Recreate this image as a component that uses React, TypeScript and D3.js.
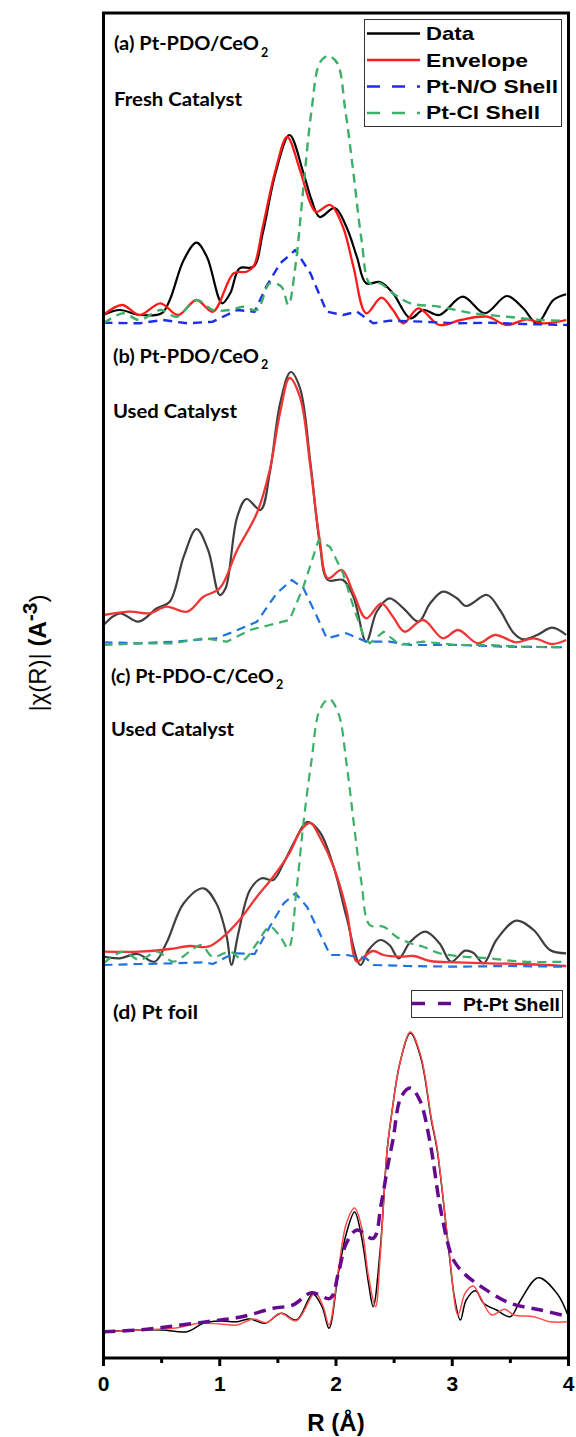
import React from 'react';
import * as d3 from 'd3';

type P = [number, number];

// ---------- axis ----------
const xMajorTicks = [0, 1, 2, 3, 4];
const xMinorTicks = [0.5, 1.5, 2.5, 3.5];

// ---------- panel (a) Pt-PDO/CeO2 fresh ----------
const aData: P[] = [[0,1.5],[0.14,2.0],[0.31,1.5],[0.50,1.67],[0.57,3.0],[0.69,7.0],[0.80,8.73],[0.89,7.3],[1.02,2.67],[1.09,3.67],[1.17,6.17],[1.29,6.33],[1.37,9.67],[1.48,15.7],[1.60,19.5],[1.72,15.7],[1.79,13.0],[1.86,11.3],[1.99,12.2],[2.09,10.3],[2.18,7.3],[2.26,4.67],[2.38,4.8],[2.49,3.67],[2.64,1.17],[2.75,2.0],[2.89,1.5],[3.09,3.33],[3.28,1.67],[3.47,3.4],[3.61,2.17],[3.73,0.67],[3.87,3.0],[3.98,3.57]];
const aEnvelope: P[] = [[0,1.5],[0.16,2.5],[0.31,1.5],[0.49,2.67],[0.64,1.5],[0.80,3.0],[0.94,1.83],[1.12,5.67],[1.23,5.83],[1.29,6.33],[1.37,10.3],[1.48,16.0],[1.58,19.3],[1.69,16.0],[1.78,12.67],[1.83,11.8],[1.95,12.5],[2.06,10.3],[2.15,6.33],[2.26,1.67],[2.39,3.23],[2.49,2.0],[2.58,0.67],[2.71,2.17],[2.89,0.5],[3.07,1.0],[3.30,1.33],[3.47,0.5],[3.64,1.07],[3.78,0.67],[3.98,1.0]];
const aNO: P[] = [[0,0.73],[0.31,0.67],[0.51,1.0],[0.72,0.67],[0.94,0.83],[1.15,2.0],[1.30,1.83],[1.40,4.33],[1.52,6.67],[1.65,8.0],[1.78,5.67],[1.92,1.83],[2.06,1.5],[2.18,1.83],[2.32,0.67],[2.46,0.93],[2.75,0.83],[3.04,0.67],[3.32,0.73],[3.61,0.6],[4.0,0.5]];
const aCl: P[] = [[0,0.67],[0.17,1.67],[0.31,1.0],[0.49,2.0],[0.63,1.33],[0.80,3.0],[0.94,2.0],[1.09,2.0],[1.20,2.33],[1.32,2.0],[1.43,4.67],[1.53,4.33],[1.59,2.5],[1.65,6.33],[1.72,14.3],[1.79,22.0],[1.86,26.7],[1.93,27.4],[2.01,26.7],[2.08,22.0],[2.15,15.7],[2.22,9.0],[2.29,4.67],[2.38,4.67],[2.49,3.67],[2.64,2.67],[2.89,2.33],[3.18,1.67],[3.47,1.33],[3.76,1.0],[3.98,0.93]];

// ---------- panel (b) Pt-PDO/CeO2 used ----------
const bData: P[] = [[0,3.0],[0.14,4.17],[0.30,3.33],[0.46,4.67],[0.57,5.33],[0.69,9.83],[0.80,12.6],[0.90,10.5],[1.00,6.0],[1.05,6.67],[1.15,13.8],[1.23,15.6],[1.35,14.5],[1.43,18.2],[1.52,25.2],[1.61,28.3],[1.69,26.7],[1.78,19.2],[1.86,11.2],[1.93,7.5],[2.06,7.5],[2.15,5.83],[2.26,1.33],[2.35,4.33],[2.46,5.67],[2.58,4.67],[2.71,3.33],[2.81,5.17],[2.92,6.33],[3.04,5.67],[3.12,4.9],[3.30,6.0],[3.41,4.5],[3.53,2.17],[3.61,1.57],[3.73,2.0],[3.86,2.73],[3.98,2.0]];
const bEnvelope: P[] = [[0,4.0],[0.23,4.33],[0.40,4.17],[0.54,4.83],[0.72,4.33],[0.86,5.83],[1.00,6.67],[1.15,10.5],[1.32,14.2],[1.43,18.5],[1.52,24.3],[1.60,27.7],[1.69,25.8],[1.78,18.8],[1.86,11.5],[1.93,7.67],[2.05,8.5],[2.15,6.17],[2.26,3.67],[2.39,5.17],[2.49,3.83],[2.59,2.33],[2.75,3.5],[2.92,1.67],[3.05,2.5],[3.22,1.17],[3.37,2.0],[3.55,1.27],[3.70,1.67],[3.86,1.1],[3.98,1.5]];
const bNO: P[] = [[0,1.27],[0.31,1.17],[0.60,1.33],[0.97,1.67],[1.12,2.33],[1.32,3.33],[1.49,6.17],[1.62,7.5],[1.72,6.67],[1.83,4.0],[1.92,1.67],[2.09,2.17],[2.26,1.33],[2.46,1.33],[2.64,1.0],[3.04,1.0],[3.47,0.83],[3.98,0.77]];
const bCl: P[] = [[0,1.0],[0.31,1.17],[0.60,1.17],[0.86,1.67],[1.06,1.33],[1.26,2.5],[1.43,3.0],[1.60,3.5],[1.72,6.83],[1.85,11.5],[1.95,10.8],[2.06,8.17],[2.15,4.83],[2.24,1.83],[2.29,1.17],[2.41,2.33],[2.55,1.0],[2.75,1.33],[3.04,1.0],[3.32,1.0],[3.61,0.83],[3.98,0.77]];

// ---------- panel (c) Pt-PDO-C/CeO2 used ----------
const cData: P[] = [[0,1.83],[0.14,1.67],[0.29,2.1],[0.44,1.33],[0.54,3.17],[0.69,7.17],[0.86,8.67],[0.97,7.17],[1.06,3.83],[1.10,1.0],[1.16,4.17],[1.26,8.5],[1.36,9.67],[1.46,9.5],[1.55,11.2],[1.65,13.5],[1.75,15.3],[1.86,14.3],[1.98,10.8],[2.09,5.83],[2.21,1.0],[2.28,2.5],[2.38,3.5],[2.46,3.0],[2.54,1.67],[2.64,3.33],[2.77,4.33],[2.89,3.17],[2.99,1.33],[3.11,2.43],[3.18,2.23],[3.27,1.17],[3.38,3.5],[3.55,5.43],[3.70,4.5],[3.84,2.5],[3.98,2.17]];
const cEnvelope: P[] = [[0,2.33],[0.31,2.33],[0.57,2.6],[0.74,2.9],[0.90,2.83],[1.03,3.83],[1.17,5.5],[1.32,7.83],[1.46,9.83],[1.60,12.2],[1.70,14.5],[1.78,15.2],[1.86,13.8],[1.98,10.8],[2.09,6.5],[2.18,1.33],[2.24,1.83],[2.32,2.4],[2.41,2.0],[2.55,1.83],[2.67,1.9],[2.81,1.4],[3.04,1.27],[3.32,1.17],[3.61,1.1],[3.98,0.9]];
const cNO: P[] = [[0,1.0],[0.31,1.1],[0.60,1.17],[0.86,1.27],[0.94,1.1],[1.12,2.17],[1.30,2.1],[1.43,4.83],[1.55,7.17],[1.65,8.17],[1.75,6.83],[1.86,4.17],[1.95,2.0],[2.09,2.0],[2.26,1.67],[2.32,1.0],[2.61,0.9],[3.04,0.83],[3.47,0.9],[3.98,0.83]];
const cCl: P[] = [[0,1.17],[0.17,2.33],[0.31,1.5],[0.46,2.33],[0.60,1.33],[0.74,2.33],[0.84,3.0],[0.94,1.83],[1.09,2.33],[1.20,1.5],[1.32,3.17],[1.43,4.83],[1.52,3.83],[1.59,2.67],[1.66,8.5],[1.72,15.2],[1.79,21.5],[1.86,26.5],[1.94,27.6],[2.02,26.2],[2.09,21.2],[2.16,14.5],[2.22,9.17],[2.29,5.0],[2.41,4.83],[2.52,3.83],[2.64,3.17],[2.75,2.83],[2.89,2.17],[3.04,1.9],[3.18,1.77],[3.32,1.67],[3.61,1.33],[3.98,1.33]];

// ---------- panel (d) Pt foil ----------
const dData: P[] = [[0,2.63],[0.31,2.8],[0.51,2.8],[0.72,2.63],[0.86,3.47],[1.00,3.7],[1.15,3.63],[1.26,3.9],[1.39,3.47],[1.53,4.47],[1.66,3.8],[1.80,6.4],[1.88,5.13],[1.94,2.97],[2.02,8.47],[2.09,12.5],[2.16,14.6],[2.22,12.1],[2.28,7.47],[2.32,5.13],[2.38,10.8],[2.44,20.8],[2.48,24.5],[2.55,29.5],[2.64,32.5],[2.73,30.0],[2.82,23.8],[2.87,20.8],[2.97,10.8],[3.02,6.0],[3.07,3.8],[3.12,5.8],[3.20,6.73],[3.27,5.47],[3.38,4.8],[3.50,4.13],[3.58,5.63],[3.74,8.03],[3.90,6.47],[4.00,4.13]];
const dEnvelope: P[] = [[0,2.63],[0.31,2.8],[0.60,2.97],[0.83,3.47],[1.00,3.4],[1.15,3.3],[1.29,3.9],[1.40,3.53],[1.52,4.47],[1.66,3.73],[1.82,6.53],[1.89,5.13],[1.94,3.3],[2.02,8.8],[2.09,13.5],[2.16,15.0],[2.22,13.1],[2.28,8.13],[2.34,5.13],[2.38,10.1],[2.44,20.8],[2.48,24.5],[2.55,29.5],[2.64,32.6],[2.73,30.2],[2.82,24.0],[2.87,21.0],[2.97,11.0],[3.05,4.3],[3.11,6.47],[3.18,7.2],[3.24,6.13],[3.34,4.3],[3.45,4.87],[3.53,4.3],[3.70,4.13],[3.84,3.63],[4.00,3.63]];
const dPtPt: P[] = [[0,2.63],[0.31,2.8],[0.60,3.2],[0.89,3.63],[1.17,4.07],[1.46,4.97],[1.63,5.3],[1.79,6.53],[1.95,5.97],[2.02,8.47],[2.09,11.5],[2.18,12.8],[2.32,11.97],[2.39,15.5],[2.45,19.5],[2.49,21.8],[2.56,26.1],[2.64,27.0],[2.72,25.8],[2.81,21.5],[2.89,15.5],[2.97,11.1],[3.01,9.8],[3.10,8.47],[3.25,7.13],[3.50,5.47],[3.76,4.8],[4.00,4.13]];

const legendA = ['Data', 'Envelope', 'Pt-N/O Shell', 'Pt-Cl Shell'];
const legendD = ['Pt-Pt Shell'];

const BLACK = '#000000';
const GRAY = '#3f3f3f';
const RED = '#ff1a1a';
const RED2 = '#f03535';
const RED3 = '#ff4a4a';
const BLUE = '#1c2ee8';
const BLUE2 = '#1f72e0';
const GREEN = '#3daf68';
const PURPLE = '#650a8f';

type Series = { data: P[]; color: string; width: number; dash?: string; smooth: boolean };
type Panel = {
  top: number; bottom: number;
  series: Series[];
};

const ARIAL = 'Liberation Sans, Arial, sans-serif';
const CAL = 'Lato, Carlito, sans-serif';

export default function App() {
  const x = d3.scaleLinear().domain([0, 4]).range([103.5, 568.5]);

  const panels: Panel[] = [
    { top: 13, bottom: 330, series: [
      { data: aData, color: BLACK, width: 2.2, smooth: true },
      { data: aEnvelope, color: RED, width: 2.3, smooth: true },
      { data: aNO, color: BLUE, width: 2.4, dash: '9 6', smooth: false },
      { data: aCl, color: GREEN, width: 2.4, dash: '9 6', smooth: true },
    ]},
    { top: 330, bottom: 655, series: [
      { data: bData, color: GRAY, width: 2.2, smooth: true },
      { data: bEnvelope, color: RED2, width: 2.3, smooth: true },
      { data: bNO, color: BLUE2, width: 2.2, dash: '9 6', smooth: false },
      { data: bCl, color: GREEN, width: 2.2, dash: '9 6', smooth: false },
    ]},
    { top: 655, bottom: 975, series: [
      { data: cData, color: GRAY, width: 2.2, smooth: true },
      { data: cEnvelope, color: RED2, width: 2.3, smooth: true },
      { data: cNO, color: BLUE2, width: 2.2, dash: '9 6', smooth: false },
      { data: cCl, color: GREEN, width: 2.2, dash: '9 6', smooth: true },
    ]},
    { top: 975, bottom: 1358, series: [
      { data: dData, color: BLACK, width: 1.5, smooth: true },
      { data: dEnvelope, color: RED3, width: 1.5, smooth: true },
      { data: dPtPt, color: PURPLE, width: 3.5, dash: '12 7', smooth: true },
    ]},
  ];

  const paths = panels.flatMap((p, pi) => {
    const y = d3.scaleLinear().domain([0, (p.bottom - p.top) / 10]).range([p.bottom, p.top]);
    return p.series.map((s, si) => {
      const line = d3.line<P>()
        .x(d => x(d[0]))
        .y(d => y(d[1]))
        .curve(s.smooth ? d3.curveCatmullRom.alpha(0.5) : d3.curveLinear);
      return (
        <path key={`${pi}-${si}`} d={line(s.data) || ''} fill="none" stroke={s.color}
          strokeWidth={s.width} strokeDasharray={s.dash} strokeLinejoin="round" />
      );
    });
  });

  const legendAColors = [BLACK, RED, BLUE, GREEN];
  const legendADash = [undefined, undefined, '13 12', '13 12'];
  const legendAY = [33.5, 60, 86.5, 113];
  const legendABase = [40, 66.5, 93, 119];
  const legendALen = [48, 102, 132, 114];

  return (
    <svg width={576} height={1437} style={{ position: 'absolute', left: 0, top: 0, background: '#fff' }}>
      <rect x={0} y={0} width={576} height={1437} fill="#fff" />
      {paths}

      {/* frame */}
      <rect x={103.5} y={13} width={465} height={1345} fill="none" stroke="#000" strokeWidth={3} />

      {/* x ticks */}
      {xMajorTicks.map(t => (
        <g key={`M${t}`}>
          <line x1={x(t)} x2={x(t)} y1={1358} y2={1366} stroke="#000" strokeWidth={3} />
          <text x={x(t)} y={1391} textAnchor="middle" fontFamily={ARIAL} fontWeight="bold" fontSize={21}>{t}</text>
        </g>
      ))}
      {xMinorTicks.map(t => (
        <line key={`m${t}`} x1={x(t)} x2={x(t)} y1={1358} y2={1363} stroke="#000" strokeWidth={3} />
      ))}
      <text x={336} y={1431} textAnchor="middle" fontFamily={ARIAL} fontWeight="bold" fontSize={24}>R (Å)</text>

      {/* y label */}
      <text transform="translate(46,653) rotate(-90)" textAnchor="middle" fontFamily={ARIAL} fontSize={24}>
        <tspan>|χ(R)| </tspan>
        <tspan fontWeight="bold">(A</tspan>
        <tspan fontWeight="bold" fontSize={21} dy={-9}>-3</tspan>
        <tspan dy={9}>)</tspan>
      </text>

      {/* panel titles */}
      <text x={114} y={50} fontFamily={CAL} fontWeight="bold" fontSize={19.5} textLength={145} lengthAdjust="spacingAndGlyphs">(a) Pt-PDO/CeO</text>
      <text x={261} y={57} fontFamily={CAL} fontWeight="bold" fontSize={12.5}>2</text>
      <text x={114} y={106} fontFamily={CAL} fontWeight="bold" fontSize={19.5} textLength={128} lengthAdjust="spacingAndGlyphs">Fresh Catalyst</text>

      <text x={113} y={363} fontFamily={CAL} fontWeight="bold" fontSize={19.5} textLength={146} lengthAdjust="spacingAndGlyphs">(b) Pt-PDO/CeO</text>
      <text x={261} y={369} fontFamily={CAL} fontWeight="bold" fontSize={12.5}>2</text>
      <text x={113} y={418} fontFamily={CAL} fontWeight="bold" fontSize={19.5} textLength={124} lengthAdjust="spacingAndGlyphs">Used Catalyst</text>

      <text x={111} y={683} fontFamily={CAL} fontWeight="bold" fontSize={19.5} textLength={163} lengthAdjust="spacingAndGlyphs">(c) Pt-PDO-C/CeO</text>
      <text x={276} y={689} fontFamily={CAL} fontWeight="bold" fontSize={12.5}>2</text>
      <text x={111} y={736} fontFamily={CAL} fontWeight="bold" fontSize={19.5} textLength={123} lengthAdjust="spacingAndGlyphs">Used Catalyst</text>

      <text x={113} y={1019} fontFamily={CAL} fontWeight="bold" fontSize={19.5} textLength={85} lengthAdjust="spacingAndGlyphs">(d) Pt foil</text>

      {/* legend a */}
      <rect x={364.5} y={19.5} width={197} height={107} fill="#fff" stroke="#333" strokeWidth={1} />
      {legendA.map((name, i) => (
        <g key={name}>
          <line x1={367} x2={420} y1={legendAY[i]} y2={legendAY[i]} stroke={legendAColors[i]} strokeWidth={2.6} strokeDasharray={legendADash[i]} />
          <text x={426} y={legendABase[i]} fontFamily={ARIAL} fontWeight="bold" fontSize={18.5} textLength={legendALen[i]} lengthAdjust="spacingAndGlyphs">{name}</text>
        </g>
      ))}

      {/* legend d */}
      <rect x={411.5} y={990.5} width={151} height={27} fill="#fff" stroke="#333" strokeWidth={1} />
      {legendD.map(name => (
        <g key={name}>
          <line x1={412} x2={453} y1={1003.5} y2={1003.5} stroke={PURPLE} strokeWidth={3.5} strokeDasharray="13 13" />
          <text x={463} y={1011} fontFamily={ARIAL} fontWeight="bold" fontSize={19} textLength={97} lengthAdjust="spacingAndGlyphs">{name}</text>
        </g>
      ))}
    </svg>
  );
}
